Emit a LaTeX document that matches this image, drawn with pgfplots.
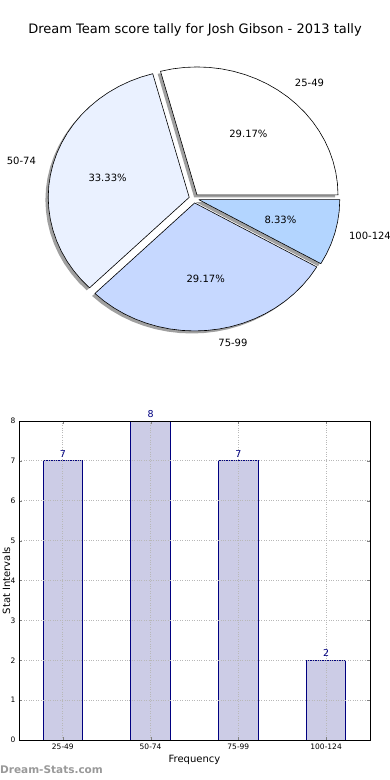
\documentclass[border=0pt]{standalone}
\usepackage{pgfplots}
\pgfplotsset{compat=1.18}
\usepackage{pgfplotstable}
\usepackage{fontspec}
\setmainfont{DejaVu Sans}

\definecolor{wA}{HTML}{FFFFFF}
\definecolor{wB}{HTML}{EAF1FF}
\definecolor{wC}{HTML}{C6D8FF}
\definecolor{wD}{HTML}{B3D5FF}
\definecolor{barfill}{HTML}{CCCCE6}
\definecolor{navyc}{HTML}{000080}
\definecolor{shadowc}{HTML}{A0A0A0}

% wedge outlines in polar form: angle (deg), radius
\pgfplotstableread{
a r
0 0
0 1
5 1
10 1
15 1
20 1
25 1
30 1
35 1
40 1
45 1
50 1
55 1
60 1
65 1
70 1
75 1
80 1
85 1
90 1
95 1
100 1
105 1
0 0
}\wedgeA
\pgfplotstableread{
a r
0 0
105 1
110 1
115 1
120 1
125 1
130 1
135 1
140 1
145 1
150 1
155 1
160 1
165 1
170 1
175 1
180 1
185 1
190 1
195 1
200 1
205 1
210 1
215 1
220 1
225 1
0 0
}\wedgeB
\pgfplotstableread{
a r
0 0
225 1
230 1
235 1
240 1
245 1
250 1
255 1
260 1
265 1
270 1
275 1
280 1
285 1
290 1
295 1
300 1
305 1
310 1
315 1
320 1
325 1
330 1
0 0
}\wedgeC
\pgfplotstableread{
a r
0 0
330 1
335 1
340 1
345 1
350 1
355 1
360 1
0 0
}\wedgeD

\pgfplotstableread{
x y
0 7
1 8
2 7
3 2
}\bardata

\begin{document}
\begin{tikzpicture}
\useasboundingbox (0,0) rectangle (390pt,780pt);

\node[font=\fontsize{13}{15}\selectfont] at (195pt,750pt) {Dream Team score tally for Josh Gibson - 2013 tally};

\begin{axis}[
  at={(194pt,581.5pt)}, anchor=center,
  x=141pt, y=128pt,
  xmin=-1.2, xmax=1.2, ymin=-1.2, ymax=1.2,
  hide axis, clip=false,
  every node/.append style={font=\fontsize{10.5}{12}\selectfont},
]
% shadows
\addplot[draw=none, fill=shadowc, data cs=polar, xshift=0.18pt, yshift=1.00pt] table[x=a,y=r] {\wedgeA};
\addplot[draw=none, fill=shadowc, data cs=polar, xshift=-7.59pt, yshift=-1.40pt] table[x=a,y=r] {\wedgeB};
\addplot[draw=none, fill=shadowc, data cs=polar, xshift=-2.17pt, yshift=-7.00pt] table[x=a,y=r] {\wedgeC};
\addplot[draw=none, fill=shadowc, data cs=polar, xshift=1.95pt, yshift=-3.72pt] table[x=a,y=r] {\wedgeD};
% wedges
\addplot[draw=black, line width=0.6pt, line join=round, fill=wA, data cs=polar, xshift=3.00pt, yshift=3.56pt] table[x=a,y=r] {\wedgeA};
\addplot[draw=black, line width=0.6pt, line join=round, fill=wB, data cs=polar, xshift=-4.77pt, yshift=1.16pt] table[x=a,y=r] {\wedgeB};
\addplot[draw=black, line width=0.6pt, line join=round, fill=wC, data cs=polar, xshift=0.65pt, yshift=-4.44pt] table[x=a,y=r] {\wedgeC};
\addplot[draw=black, line width=0.6pt, line join=round, fill=wD, data cs=polar, xshift=4.77pt, yshift=-1.16pt] table[x=a,y=r] {\wedgeD};
% labels
\node[anchor=west] at (axis cs:0.691,0.901) {25-49};
\node[anchor=east] at (axis cs:-1.096,0.294) {50-74};
\node[anchor=west] at (axis cs:0.148,-1.125) {75-99};
\node[anchor=west, xshift=-3pt] at (axis cs:1.096,-0.294) {100-124};
\node at (axis cs:0.386,0.504) {29.17\%};
\node at (axis cs:-0.613,0.164) {33.33\%};
\node at (axis cs:0.083,-0.630) {29.17\%};
\node at (axis cs:0.613,-0.164) {8.33\%};
\end{axis}

\begin{axis}[
  at={(19pt,40pt)}, anchor=south west,
  width=351pt, height=319pt, scale only axis,
  xmin=-0.5, xmax=3.5, ymin=0, ymax=8,
  xtick={0,1,2,3}, xticklabels={25-49,50-74,75-99,100-124},
  ytick={0,1,2,3,4,5,6,7,8},
  /pgf/number format/assume math mode=true,
  tick label style={font=\fontsize{7.5}{9}\selectfont},
  grid=major,
  grid style={dotted, black!28, line width=0.9pt},
  major tick length=3pt,
  tick style={black!50},
  axis line style={black, line width=0.8pt},
  axis on top,
  xlabel={Frequency}, ylabel={Stat Intervals},
  label style={font=\fontsize{10}{12}\selectfont},
  x label style={at={(axis description cs:0.5,-0.0627)}, anchor=center},
  y label style={at={(axis description cs:-0.036,0.5)}, anchor=center},
]
\addplot[ybar, bar width=0.45, fill=barfill, draw=navyc, line width=0.8pt,
  nodes near coords,
  nodes near coords style={text=navyc, font=\fontsize{9.5}{11}\selectfont, /pgf/number format/assume math mode=true},
] table[x=x,y=y] {\bardata};
\end{axis}

\node[anchor=west, inner sep=0pt, text=black!40, font=\bfseries\fontsize{10.5}{12}\selectfont] at (0pt,10pt) {Dream-Stats.com};
\end{tikzpicture}
\end{document}
